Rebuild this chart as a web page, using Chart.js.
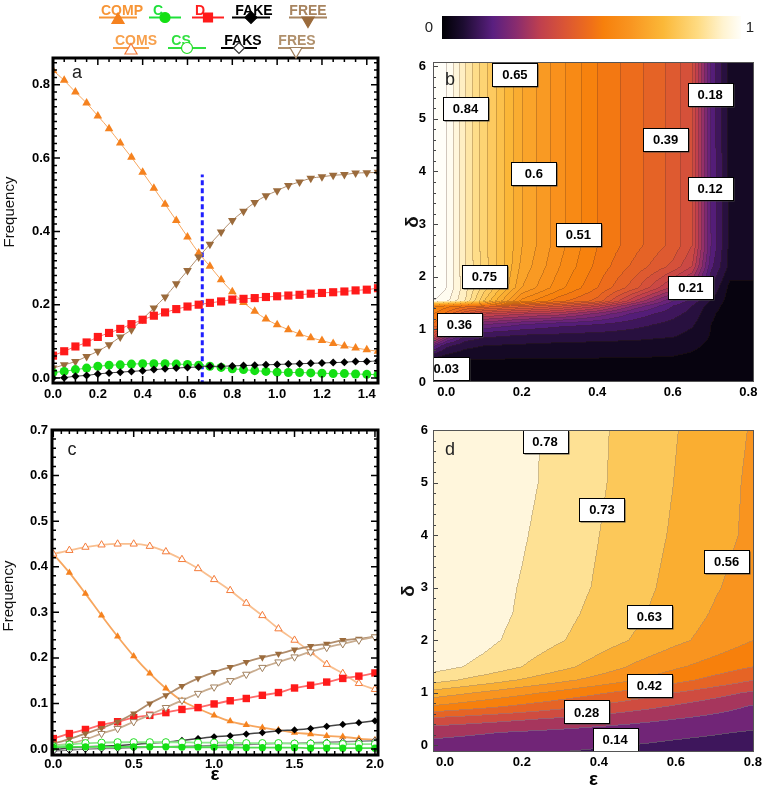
<!DOCTYPE html>
<html>
<head>
<meta charset="utf-8">
<script src="https://cdn.jsdelivr.net/npm/chart.js@4.4.0/dist/chart.umd.min.js"></script>
<style>
  body { margin: 0; background: #fff; width: 765px; height: 790px; overflow: hidden; position: relative; }
  canvas { position: absolute; }
</style>
</head>
<body>
<canvas id="chartA" width="395" height="415" style="left:0;top:0"></canvas>
<canvas id="chartB" width="375" height="405" style="left:390px;top:0"></canvas>
<canvas id="chartC" width="395" height="375" style="left:0;top:415px"></canvas>
<canvas id="chartD" width="375" height="390" style="left:390px;top:405px"></canvas>
<script>
// ---- panel a : frequencies vs epsilon ----
const epsA = [0, 0.05, 0.1, 0.15, 0.2, 0.25, 0.3, 0.35, 0.4, 0.45, 0.5, 0.55, 0.6, 0.65, 0.7,
  0.75, 0.8, 0.85, 0.9, 0.95, 1.0, 1.05, 1.1, 1.15, 1.2, 1.25, 1.3, 1.35, 1.4, 1.45];
const compA = [0.839, 0.812, 0.780, 0.750, 0.715, 0.680, 0.641, 0.602, 0.561, 0.518, 0.474, 0.430, 0.385, 0.341, 0.305,
  0.268, 0.235, 0.206, 0.182, 0.161, 0.145, 0.132, 0.120, 0.110, 0.102, 0.094, 0.087, 0.082, 0.077, 0.073];
const freeA = [0.027, 0.036, 0.045, 0.059, 0.073, 0.091, 0.112, 0.132, 0.161, 0.191, 0.221, 0.257, 0.293, 0.330, 0.365,
  0.398, 0.430, 0.455, 0.479, 0.497, 0.511, 0.525, 0.535, 0.545, 0.549, 0.553, 0.555, 0.559, 0.560, 0.561];
const dA = [0.061, 0.073, 0.086, 0.097, 0.112, 0.123, 0.134, 0.147, 0.159, 0.170, 0.179, 0.188, 0.195, 0.200, 0.205,
  0.209, 0.214, 0.216, 0.218, 0.221, 0.223, 0.225, 0.227, 0.230, 0.232, 0.234, 0.236, 0.239, 0.241, 0.245];
const cA = [0.015, 0.018, 0.023, 0.027, 0.032, 0.035, 0.036, 0.038, 0.039, 0.039, 0.039, 0.038, 0.037, 0.035, 0.032,
  0.029, 0.025, 0.023, 0.020, 0.018, 0.016, 0.015, 0.015, 0.014, 0.013, 0.012, 0.012, 0.011, 0.010, 0.009];
const fakeA = [0.000, 0.001, 0.005, 0.007, 0.011, 0.014, 0.016, 0.018, 0.020, 0.023, 0.025, 0.027, 0.029, 0.030, 0.032,
  0.032, 0.033, 0.034, 0.035, 0.036, 0.037, 0.038, 0.039, 0.040, 0.041, 0.042, 0.043, 0.045, 0.045, 0.047];
const cutX = [0.666, 0.666];
const cutY = [-0.02, 0.555];
const xTicksA = [0, 0.2, 0.4, 0.6, 0.8, 1.0, 1.2, 1.4];
const yTicksA = [0, 0.2, 0.4, 0.6, 0.8];

// ---- panel c ----
const epsC = [0, 0.1, 0.2, 0.3, 0.4, 0.5, 0.6, 0.7, 0.8, 0.9, 1.0, 1.1, 1.2, 1.3, 1.4, 1.5, 1.6, 1.7, 1.8, 1.9, 2.0];
const compC = [0.428, 0.387, 0.341, 0.293, 0.247, 0.204, 0.166, 0.133, 0.106, 0.089, 0.074, 0.061, 0.053, 0.047, 0.042, 0.036, 0.033, 0.029, 0.027, 0.023, 0.020];
const comsC = [0.428, 0.436, 0.443, 0.448, 0.450, 0.450, 0.445, 0.433, 0.416, 0.396, 0.372, 0.348, 0.320, 0.293, 0.264, 0.239, 0.213, 0.186, 0.166, 0.144, 0.131];
const freeC = [0.012, 0.022, 0.034, 0.046, 0.060, 0.078, 0.100, 0.118, 0.138, 0.155, 0.169, 0.180, 0.191, 0.201, 0.209, 0.218, 0.226, 0.231, 0.239, 0.242, 0.247];
const fresC = [0.008, 0.012, 0.021, 0.034, 0.045, 0.060, 0.075, 0.091, 0.107, 0.122, 0.136, 0.150, 0.164, 0.179, 0.191, 0.202, 0.213, 0.223, 0.231, 0.239, 0.246];
const dC = [0.023, 0.034, 0.043, 0.053, 0.060, 0.069, 0.074, 0.080, 0.087, 0.091, 0.099, 0.106, 0.111, 0.118, 0.124, 0.134, 0.140, 0.147, 0.155, 0.160, 0.167];
const fakeC = [-0.002, 0.003, 0.005, 0.006, 0.008, 0.010, 0.013, 0.015, 0.019, 0.023, 0.027, 0.029, 0.033, 0.036, 0.040, 0.042, 0.045, 0.050, 0.054, 0.058, 0.062];
const faksC = [-0.004, -0.002, 0.000, 0.001, 0.002, 0.003, 0.004, 0.005, 0.006, 0.007, 0.008, 0.009, 0.010, 0.011, 0.012, 0.013, 0.014, 0.015, 0.016, 0.017, 0.018];
const cC = [0.004, 0.005, 0.005, 0.005, 0.005, 0.005, 0.005, 0.005, 0.004, 0.004, 0.004, 0.004, 0.003, 0.003, 0.003, 0.003, 0.002, 0.002, 0.002, 0.002, 0.002];
const csC = [0.006, 0.010, 0.013, 0.014, 0.015, 0.015, 0.015, 0.015, 0.015, 0.014, 0.014, 0.014, 0.013, 0.013, 0.013, 0.012, 0.012, 0.012, 0.011, 0.011, 0.011];
const xTicksC = [0, 0.5, 1.0, 1.5, 2.0];
const yTicksC = [0, 0.1, 0.2, 0.3, 0.4, 0.5, 0.6, 0.7];

// ---- panel b : map over (epsilon, delta) ----
const epsB = [-0.035, 0.0, 0.05, 0.1, 0.2, 0.3, 0.4, 0.5, 0.6, 0.65, 0.7, 0.75, 0.815];
const deltaB = [0, 0.4, 0.7, 0.9, 1.1, 1.3, 1.45, 1.55, 1.8, 2.2, 2.6, 6.1];
const gridB = [
  [0.02, 0.02, 0.02, 0.02, 0.02, 0.02, 0.02, 0.02, 0.02, 0.02, 0.02, 0.015, 0.015],
  [0.03, 0.028, 0.026, 0.025, 0.025, 0.025, 0.025, 0.025, 0.025, 0.022, 0.02, 0.015, 0.015],
  [0.16, 0.10, 0.07, 0.06, 0.055, 0.05, 0.048, 0.045, 0.04, 0.035, 0.025, 0.015, 0.015],
  [0.35, 0.22, 0.12, 0.10, 0.09, 0.085, 0.08, 0.075, 0.065, 0.05, 0.028, 0.015, 0.015],
  [0.45, 0.40, 0.28, 0.18, 0.15, 0.13, 0.12, 0.10, 0.08, 0.065, 0.03, 0.015, 0.015],
  [0.48, 0.44, 0.36, 0.30, 0.27, 0.25, 0.20, 0.14, 0.10, 0.08, 0.035, 0.015, 0.015],
  [0.52, 0.49, 0.46, 0.44, 0.40, 0.36, 0.30, 0.20, 0.12, 0.09, 0.045, 0.015, 0.015],
  [0.93, 0.91, 0.84, 0.72, 0.53, 0.46, 0.41, 0.27, 0.15, 0.11, 0.06, 0.015, 0.015],
  [0.96, 0.93, 0.85, 0.765, 0.60, 0.52, 0.45, 0.37, 0.26, 0.20, 0.09, 0.02, 0.02],
  [0.96, 0.93, 0.84, 0.765, 0.62, 0.54, 0.47, 0.41, 0.35, 0.30, 0.13, 0.05, 0.05],
  [0.96, 0.93, 0.84, 0.76, 0.63, 0.55, 0.48, 0.43, 0.38, 0.33, 0.15, 0.05, 0.05],
  [0.96, 0.93, 0.84, 0.76, 0.63, 0.55, 0.48, 0.43, 0.38, 0.33, 0.14, 0.05, 0.05]
];
const labelTextB = ['0.65', '0.84', '0.18', '0.39', '0.6', '0.12', '0.51', '0.75', '0.21', '0.36', '0.03'];
const labelEpsB = [0.182, 0.051, 0.699, 0.581, 0.232, 0.699, 0.350, 0.101, 0.648, 0.035, 0.0];
const labelDeltaB = [5.84, 5.20, 5.47, 4.60, 3.97, 3.68, 2.80, 2.00, 1.79, 1.09, 0.25];

// ---- panel d ----
const epsD = [-0.03, 0.1, 0.2, 0.3, 0.4, 0.5, 0.6, 0.7, 0.8];
const deltaD = [-0.15, 0.25, 0.5, 0.75, 1.0, 1.25, 1.5, 2.0, 2.5, 3.0, 4.0, 5.0, 6.0];
const gridD = [
  [0.165, 0.156, 0.146, 0.136, 0.127, 0.118, 0.108, 0.099, 0.090],
  [0.230, 0.215, 0.203, 0.192, 0.180, 0.169, 0.157, 0.146, 0.134],
  [0.330, 0.305, 0.286, 0.266, 0.247, 0.228, 0.209, 0.189, 0.170],
  [0.485, 0.441, 0.407, 0.374, 0.340, 0.306, 0.273, 0.239, 0.205],
  [0.600, 0.548, 0.508, 0.468, 0.428, 0.388, 0.347, 0.307, 0.267],
  [0.730, 0.671, 0.625, 0.580, 0.535, 0.489, 0.444, 0.398, 0.353],
  [0.800, 0.750, 0.700, 0.650, 0.600, 0.545, 0.500, 0.460, 0.420],
  [0.830, 0.790, 0.745, 0.705, 0.663, 0.620, 0.575, 0.535, 0.490],
  [0.840, 0.800, 0.760, 0.720, 0.680, 0.640, 0.595, 0.553, 0.510],
  [0.850, 0.800, 0.765, 0.728, 0.692, 0.650, 0.608, 0.566, 0.530],
  [0.865, 0.815, 0.776, 0.737, 0.700, 0.660, 0.620, 0.583, 0.545],
  [0.875, 0.825, 0.786, 0.747, 0.708, 0.668, 0.627, 0.588, 0.547],
  [0.877, 0.827, 0.788, 0.749, 0.710, 0.671, 0.632, 0.593, 0.554]
];
const levelsD = [0.07, 0.14, 0.21, 0.28, 0.35, 0.42, 0.49, 0.56, 0.63, 0.70, 0.77];
const labelTextD = ['0.78', '0.73', '0.56', '0.63', '0.42', '0.28', '0.14'];
const labelEpsD = [0.260, 0.408, 0.732, 0.531, 0.531, 0.368, 0.442];
const labelDeltaD = [5.78, 4.49, 3.50, 2.45, 1.13, 0.63, 0.10];

const xTicksMap = [0, 0.2, 0.4, 0.6, 0.8];
const yTicksMap = [0, 1, 2, 3, 4, 5, 6];

// ---- styles ----
const FONT = '"Liberation Sans", Arial, Helvetica, sans-serif';
Chart.defaults.font.family = FONT;
Chart.defaults.color = '#000';

const SERIES = {
  COMP: { mark: '#f5821f', line: '#f7a65e', text: '#f79536', shape: 'triangle', open: false },
  C:    { mark: '#14e014', line: '#50dc50', text: '#1ee03a', shape: 'circle', open: false },
  D:    { mark: '#ff1a1a', line: '#ff6a6a', text: '#ff2020', shape: 'rect', open: false },
  FAKE: { mark: '#000000', line: '#444444', text: '#000000', shape: 'diamond', open: false },
  FREE: { mark: '#9b6b3c', line: '#b08d6c', text: '#a8845f', shape: 'triangleDown', open: false },
  COMS: { mark: '#f47b3a', line: '#f9bf8f', text: '#f7a04c', shape: 'triangle', open: true },
  CS:   { mark: '#22dd22', line: '#8ee88e', text: '#30e040', shape: 'circle', open: true },
  FAKS: { mark: '#333333', line: '#8a8a8a', text: '#000000', shape: 'diamond', open: true },
  FRES: { mark: '#a0805e', line: '#c9ad90', text: '#b0906c', shape: 'triangleDown', open: true }
};
const PSTYLE = { triangle: 'triangle', triangleDown: 'triangle', rect: 'rect', diamond: 'rectRot', circle: 'circle' };

const CMAP = [[0, '#000004'], [0.07, '#1c0c30'], [0.17, '#5a1f80'], [0.25, '#8a2c6e'], [0.33, '#c0404e'],
  [0.41, '#da5535'], [0.5, '#f07018'], [0.54, '#f7800c'], [0.63, '#f99520'], [0.74, '#fbb838'],
  [0.855, '#fedb82'], [0.94, '#fff3d0'], [1, '#fffef8']];

function hex(c) { return [parseInt(c.slice(1, 3), 16), parseInt(c.slice(3, 5), 16), parseInt(c.slice(5, 7), 16)]; }
function cmap(t) {
  t = Math.max(0, Math.min(1, t));
  for (let i = 0; i < CMAP.length - 1; i++) {
    const [t0, c0] = CMAP[i], [t1, c1] = CMAP[i + 1];
    if (t <= t1) {
      const f = (t - t0) / (t1 - t0), a = hex(c0), b = hex(c1);
      return a.map((v, k) => Math.round(v + (b[k] - v) * f));
    }
  }
  return hex(CMAP[CMAP.length - 1][1]);
}

function series(key, xs, ys, r, lw) {
  const s = SERIES[key];
  return {
    label: key,
    data: xs.map((x, i) => ({ x, y: ys[i] })),
    showLine: true,
    borderColor: s.line,
    borderWidth: lw,
    cubicInterpolationMode: 'monotone',
    pointStyle: PSTYLE[s.shape],
    rotation: s.shape === 'triangleDown' ? 180 : 0,
    pointRadius: s.shape === 'rect' ? r * 1.25 : r,
    pointBackgroundColor: s.open ? '#ffffff' : s.mark,
    pointBorderColor: s.mark,
    pointBorderWidth: s.open ? 1 : 0
  };
}

function minorTicks(a, b, step) {
  const out = [];
  for (let k = 0; a + k * step <= b + 1e-9; k++) out.push(+(a + k * step).toFixed(4));
  return out;
}

// draws the marker shape used by the legend
function marker(ctx, shape, x, y, r, fill, stroke) {
  ctx.beginPath();
  if (shape === 'circle') ctx.arc(x, y, r, 0, Math.PI * 2);
  else if (shape === 'rect') ctx.rect(x - r, y - r, 2 * r, 2 * r);
  else if (shape === 'diamond') { ctx.moveTo(x, y - r); ctx.lineTo(x + r, y); ctx.lineTo(x, y + r); ctx.lineTo(x - r, y); ctx.closePath(); }
  else {
    const s = shape === 'triangle' ? 1 : -1;
    ctx.moveTo(x, y - s * r);
    ctx.lineTo(x + r * 0.866, y + s * r * 0.5);
    ctx.lineTo(x - r * 0.866, y + s * r * 0.5);
    ctx.closePath();
  }
  ctx.fillStyle = fill; ctx.fill();
  ctx.lineWidth = 1.2; ctx.strokeStyle = stroke; ctx.stroke();
}

const LEGEND = [
  { key: 'COMP', tx: 122, lx: 118, row: 0, half: 19, r: 7 },
  { key: 'C', tx: 158, lx: 165, row: 0, half: 16, r: 5 },
  { key: 'D', tx: 200, lx: 208, row: 0, half: 16, r: 4.5 },
  { key: 'FAKE', tx: 254, lx: 251, row: 0, half: 19, r: 6 },
  { key: 'FREE', tx: 308, lx: 308, row: 0, half: 19, r: 7 },
  { key: 'COMS', tx: 136, lx: 131, row: 1, half: 18, r: 7 },
  { key: 'CS', tx: 181, lx: 187, row: 1, half: 19, r: 5.5 },
  { key: 'FAKS', tx: 243, lx: 239, row: 1, half: 18, r: 5.5 },
  { key: 'FRES', tx: 297, lx: 296, row: 1, half: 18, r: 7 }
];

const legendPlugin = {
  id: 'topLegend',
  afterDraw(chart) {
    const ctx = chart.ctx;
    ctx.save();
    LEGEND.forEach(it => {
      const s = SERIES[it.key];
      const base = it.row === 0 ? 15 : 45, ly = it.row === 0 ? 17.5 : 48;
      ctx.font = 'bold 14px ' + FONT;
      ctx.textAlign = 'center'; ctx.textBaseline = 'alphabetic';
      ctx.fillStyle = s.text;
      ctx.fillText(it.key, it.tx, base);
      ctx.strokeStyle = s.text; ctx.lineWidth = 2;
      ctx.beginPath(); ctx.moveTo(it.lx - it.half, ly); ctx.lineTo(it.lx + it.half, ly); ctx.stroke();
      const my = s.shape === 'triangle' ? ly + 2.5 : (s.shape === 'triangleDown' ? ly + 3 : ly);
      marker(ctx, s.shape, it.lx, my, it.r, s.open ? '#ffffff' : s.mark, s.mark);
    });
    ctx.restore();
  }
};

function makeFrame(cfg) {
  return {
    id: 'frame',
    afterDatasetsDraw(chart) {
      const { ctx, chartArea: ar, scales: { x, y } } = chart;
      const isMajor = (list, v) => list.some(m => Math.abs(m - v) < 1e-6);
      ctx.save();
      ctx.strokeStyle = '#000'; ctx.lineWidth = 1.5;
      ctx.beginPath();
      cfg.xMinor.forEach(v => {
        const p = x.getPixelForValue(v), L = isMajor(cfg.xMajor, v) ? 7 : 4;
        ctx.moveTo(p, ar.bottom); ctx.lineTo(p, ar.bottom - L);
        ctx.moveTo(p, ar.top); ctx.lineTo(p, ar.top + L);
      });
      cfg.yMinor.forEach(v => {
        const p = y.getPixelForValue(v), L = isMajor(cfg.yMajor, v) ? 7 : 4;
        ctx.moveTo(ar.left, p); ctx.lineTo(ar.left + L, p);
        ctx.moveTo(ar.right, p); ctx.lineTo(ar.right - L, p);
      });
      ctx.stroke();
      ctx.lineWidth = 3;
      ctx.strokeRect(ar.left, ar.top, ar.right - ar.left, ar.bottom - ar.top);
      ctx.font = '18px ' + FONT; ctx.fillStyle = '#222';
      ctx.textAlign = 'center'; ctx.textBaseline = 'alphabetic';
      ctx.fillText(cfg.letter, cfg.letterX, cfg.letterY);
      // rotated axis title
      ctx.translate(cfg.titleX, cfg.titleY);
      ctx.rotate(-Math.PI / 2);
      ctx.font = '15px ' + FONT; ctx.fillStyle = '#111'; ctx.textBaseline = 'middle';
      ctx.fillText('Frequency', 0, 0);
      ctx.restore();
    }
  };
}

function locate(arr, v) {
  let i = 0;
  while (i < arr.length - 2 && v > arr[i + 1]) i++;
  const t = Math.max(0, Math.min(1, (v - arr[i]) / (arr[i + 1] - arr[i])));
  return [i, t];
}
function sample(xs, ys, grid, ex, dy) {
  const [i, tx] = locate(xs, ex), [j, ty] = locate(ys, dy);
  const a = grid[j][i], b = grid[j][i + 1], c = grid[j + 1][i], d = grid[j + 1][i + 1];
  return (a * (1 - tx) + b * tx) * (1 - ty) + (c * (1 - tx) + d * tx) * ty;
}

function makeHeat(cfg) {
  return {
    id: 'heat',
    beforeDatasetsDraw(chart) {
      const { ctx, chartArea: ar, scales: { x, y } } = chart;
      const L = Math.round(ar.left), T = Math.round(ar.top);
      const w = Math.round(ar.right) - L, h = Math.round(ar.bottom) - T;
      const band = new Int16Array(w * h);
      for (let j = 0; j < h; j++) {
        const dv = y.getValueForPixel(T + j + 0.5);
        for (let i = 0; i < w; i++) {
          const ev = x.getValueForPixel(L + i + 0.5);
          band[j * w + i] = cfg.bandOf(sample(cfg.xs, cfg.ys, cfg.grid, ev, dv));
        }
      }
      const off = document.createElement('canvas');
      off.width = w; off.height = h;
      const octx = off.getContext('2d');
      const img = octx.createImageData(w, h), px = img.data;
      const cache = {};
      for (let j = 0; j < h; j++) {
        for (let i = 0; i < w; i++) {
          const p = j * w + i, k = band[p];
          const col = cache[k] || (cache[k] = cfg.colorOf(k));
          let [r, g, b] = col;
          // thin contour line where neighbouring bands meet (skip crowded jumps)
          const edge = (i > 0 && Math.abs(band[p - 1] - k) === 1) || (j > 0 && Math.abs(band[p - w] - k) === 1);
          if (edge) {
            const a = cfg.lineAlpha, lc = cfg.lineColor;
            r = r * (1 - a) + lc[0] * a; g = g * (1 - a) + lc[1] * a; b = b * (1 - a) + lc[2] * a;
          }
          px[p * 4] = r; px[p * 4 + 1] = g; px[p * 4 + 2] = b; px[p * 4 + 3] = 255;
        }
      }
      octx.putImageData(img, 0, 0);
      ctx.drawImage(off, L, T);
    },
    afterDatasetsDraw(chart) {
      const { ctx, chartArea: ar, scales: { x, y } } = chart;
      ctx.save();
      // left edge ticks
      ctx.strokeStyle = '#444'; ctx.lineWidth = 1;
      ctx.beginPath();
      minorTicks(0, 6, 0.2).forEach(v => {
        const p = Math.round(y.getPixelForValue(v)) + 0.5;
        if (p < ar.top || p > ar.bottom) return;
        const len = Math.abs(v - Math.round(v)) < 1e-6 ? 5 : 3;
        ctx.moveTo(ar.left, p); ctx.lineTo(ar.left + len, p);
      });
      ctx.stroke();
      // contour labels
      ctx.beginPath(); ctx.rect(ar.left, ar.top, ar.right - ar.left, ar.bottom - ar.top); ctx.clip();
      ctx.font = 'bold 13px ' + FONT;
      ctx.textAlign = 'center'; ctx.textBaseline = 'middle';
      cfg.labels.forEach((t, i) => {
        const cx = x.getPixelForValue(cfg.labelX[i]), cy = y.getPixelForValue(cfg.labelY[i]);
        const bw = 45, bh = 23;
        const bx = Math.round(cx - bw / 2) + 0.5, by = Math.round(cy - bh / 2) + 0.5;
        ctx.fillStyle = '#444'; ctx.fillRect(bx + 1, by + 1, bw, bh);
        ctx.fillStyle = '#fff'; ctx.fillRect(bx, by, bw, bh);
        ctx.strokeStyle = '#000'; ctx.lineWidth = 1; ctx.strokeRect(bx, by, bw, bh);
        ctx.fillStyle = '#000'; ctx.fillText(t, cx, cy + 1);
      });
      ctx.restore();
      ctx.save();
      ctx.strokeStyle = '#555'; ctx.lineWidth = 1;
      ctx.strokeRect(ar.left + 0.5, ar.top + 0.5, ar.right - ar.left - 1, ar.bottom - ar.top - 1);
      ctx.font = '18px ' + FONT; ctx.fillStyle = '#222';
      ctx.textAlign = 'center'; ctx.textBaseline = 'alphabetic';
      ctx.fillText(cfg.letter, cfg.letterX, cfg.letterY);
      if (cfg.colorbar) {
        const g = ctx.createLinearGradient(52, 0, 351, 0);
        CMAP.forEach(([t, c]) => g.addColorStop(t, c));
        ctx.fillStyle = g; ctx.fillRect(52, 16, 299, 23);
        ctx.font = '15px ' + FONT; ctx.fillStyle = '#222'; ctx.textBaseline = 'middle';
        ctx.fillText('0', 39, 28); ctx.fillText('1', 360, 28);
      }
      ctx.restore();
    }
  };
}

function axes(c) {
  const fix = (list) => (s) => { s.ticks = list.map(v => ({ value: v })); };
  return {
    x: {
      type: 'linear', min: c.xMin, max: c.xMax,
      afterFit: (s) => { s.height = c.xh; },
      afterBuildTicks: fix(c.xTicks),
      ticks: { callback: c.xFmt, font: { size: 13, weight: 'bold' }, color: '#000', padding: c.xPad, maxRotation: 0, autoSkip: false },
      grid: { display: false, drawTicks: false },
      border: { display: false },
      title: c.xTitle ? { display: true, text: c.xTitle, font: { size: 19, weight: 'bold' }, color: '#000', padding: { top: 0, bottom: 4 } } : { display: false }
    },
    y: {
      type: 'linear', min: c.yMin, max: c.yMax,
      afterFit: (s) => { s.width = c.yw; },
      afterBuildTicks: fix(c.yTicks),
      ticks: { callback: c.yFmt, font: { size: 13, weight: 'bold' }, color: '#000', padding: c.yPad, autoSkip: false },
      grid: { display: false, drawTicks: false },
      border: { display: false },
      title: c.yTitle ? { display: true, text: c.yTitle, font: c.yTitleFont, color: '#111', padding: { top: c.yTitlePad, bottom: 0 } } : { display: false }
    }
  };
}

const base = (pad) => ({
  responsive: false, animation: false, devicePixelRatio: 1,
  layout: { autoPadding: false, padding: pad },
  plugins: { legend: { display: false }, tooltip: { enabled: false } }
});
const f1 = (v) => Number(v).toFixed(1);
const f0 = (v) => String(v);

// colour of a band in panel b: slightly lifted in the warm range
function colorB(k) {
  const m = (k + 0.5) * 0.03;
  return cmap(m / 0.96 + (m > 0.25 ? 0.035 : m * 0.14));
}

// ---- chart a ----
new Chart(document.getElementById('chartA'), {
  type: 'scatter',
  data: {
    datasets: [
      series('FAKE', epsA, fakeA, 4, 1),
      series('C', epsA, cA, 4.5, 1),
      series('D', epsA, dA, 4.6, 1),
      series('FREE', epsA, freeA, 5, 1),
      series('COMP', epsA, compA, 5, 1),
      { label: 'cut', data: cutX.map((x, i) => ({ x, y: cutY[i] })), showLine: true, borderColor: '#1f1fff', borderWidth: 3, borderDash: [5, 3], pointRadius: 0 }
    ]
  },
  options: Object.assign(base({ left: 0, top: 58, right: 17, bottom: 7 }), {
    scales: axes({ xMin: 0, xMax: 1.45, yMin: -0.0136, yMax: 0.873, xh: 25, yw: 53, xTicks: xTicksA, yTicks: yTicksA,
      xFmt: f1, yFmt: f1, xPad: 4, yPad: 3, yTitle: null })
  }),
  plugins: [makeFrame({ xMinor: minorTicks(0, 1.45, 0.05), yMinor: minorTicks(0, 0.86, 0.02), xMajor: xTicksA, yMajor: yTicksA,
    letter: 'a', letterX: 77, letterY: 78, titleX: 10, titleY: 212 }), legendPlugin]
});

// ---- chart c ----
new Chart(document.getElementById('chartC'), {
  type: 'scatter',
  data: {
    datasets: [
      series('C', epsC, cC, 3.6, 1.8),
      series('CS', epsC, csC, 3.6, 1.8),
      series('FAKS', epsC, faksC, 3.4, 1.5),
      series('FAKE', epsC, fakeC, 3.6, 1.5),
      series('FRES', epsC, fresC, 4.2, 1.8),
      series('FREE', epsC, freeC, 4.2, 1.8),
      series('D', epsC, dC, 4.2, 1.8),
      series('COMS', epsC, comsC, 4.2, 1.8),
      series('COMP', epsC, compC, 4.2, 1.8)
    ]
  },
  options: Object.assign(base({ left: 0, top: 15, right: 17, bottom: 0 }), {
    scales: axes({ xMin: -0.008, xMax: 2.019, yMin: -0.013, yMax: 0.7, xh: 35, yw: 52, xTicks: xTicksC, yTicks: yTicksC,
      xFmt: f1, yFmt: f1, xPad: 2, yPad: 4, xTitle: 'ε', yTitle: null })
  }),
  plugins: [makeFrame({ xMinor: minorTicks(0, 2.0, 0.05), yMinor: minorTicks(0, 0.7, 0.02), xMajor: xTicksC, yMajor: yTicksC,
    letter: 'c', letterX: 72, letterY: 40, titleX: 9, titleY: 181 })]
});

// ---- chart b ----
new Chart(document.getElementById('chartB'), {
  type: 'scatter',
  data: { datasets: [] },
  options: Object.assign(base({ left: 0, top: 62, right: 11, bottom: 5 }), {
    scales: axes({ xMin: -0.035, xMax: 0.815, yMin: 0, yMax: 6.08, xh: 18, yw: 43, xTicks: xTicksMap, yTicks: yTicksMap,
      xFmt: f1, yFmt: f0, xPad: 3, yPad: 7, yTitle: 'δ', yTitleFont: { size: 19, weight: 'bold' }, yTitlePad: 11 })
  }),
  plugins: [makeHeat({
    xs: epsB, ys: deltaB, grid: gridB,
    bandOf: (v) => Math.max(0, Math.floor(v / 0.03)),
    colorOf: colorB,
    lineColor: [70, 40, 30], lineAlpha: 0.25,
    labels: labelTextB, labelX: labelEpsB, labelY: labelDeltaB,
    letter: 'b', letterX: 60, letterY: 85, colorbar: true
  })]
});

// ---- chart d ----
new Chart(document.getElementById('chartD'), {
  type: 'scatter',
  data: { datasets: [] },
  options: Object.assign(base({ left: 0, top: 25, right: 11, bottom: 0 }), {
    scales: axes({ xMin: -0.031, xMax: 0.803, yMin: -0.133, yMax: 6.0, xh: 43, yw: 43, xTicks: xTicksMap, yTicks: yTicksMap,
      xFmt: f1, yFmt: f0, xPad: 3, yPad: 5, xTitle: 'ε', yTitle: 'δ', yTitleFont: { size: 19, weight: 'bold' }, yTitlePad: 7 })
  }),
  plugins: [makeHeat({
    xs: epsD, ys: deltaD, grid: gridD,
    bandOf: (v) => levelsD.filter(l => v >= l).length,
    colorOf: (k) => cmap((k + 0.5) / 12),
    lineColor: [150, 140, 130], lineAlpha: 0.45,
    labels: labelTextD, labelX: labelEpsD, labelY: labelDeltaD,
    letter: 'd', letterX: 60, letterY: 50, colorbar: false
  })]
});
</script>
</body>
</html>
